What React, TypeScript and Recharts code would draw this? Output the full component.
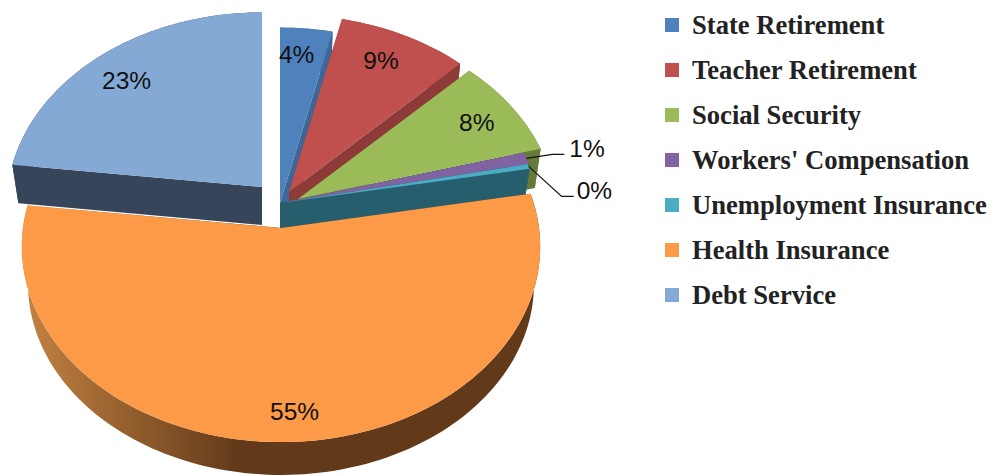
import React from "react";
import { PieChart, Pie, Cell, Legend } from "recharts";

const categories = ["State Retirement", "Teacher Retirement", "Social Security", "Workers' Compensation", "Unemployment Insurance", "Health Insurance", "Debt Service"];
const shares = [3.6, 8.9, 8.2, 1.0, 0.4, 54.7, 23.1];
const shownLabels = ["4%", "9%", "8%", "1%", "0%", "55%", "23%"];

const topColors = ["#4F81BD", "#C0504D", "#9BBB59", "#8064A2", "#4BACC6", "#FC9A48", "#85A9D5"];
const wallColors = ["#3E6797", "#8E3A38", "#667A3A", "#5A4675", "#265E6E", "url(#healthWall)", "#37455A"];

// exploded-slice displacement of each apex from the pie centre
const explodeX = [-1, 8, 17, 0, -1, 0, -19];
const explodeY = [3, -8, -1, 3, 3, 28, -13];
const sliceScale = [0.99, 1, 1, 1, 1, 1, 0.985];

// label placement: radial factor plus nudges
const labelR = [0.84, 0.72, 0.78, 1.2, 1.2, 0.86, 0.72];
const labelDx = [-6, 7, 11, 0, -2, 6, -18];
const labelDy = [1, -16, -3, 0, 1, 2, -7];

const W = 994, H = 476, CX = 281, CY = 200, R = 258;
const RY = 193.8, K = 0.0947, DEPTH = 38, SCALE = 0.976;

const rows = categories.map((name, i) => ({ name, value: shares[i] }));

const project = (deg: number, r = 1) => {
  const a = (deg * Math.PI) / 180;
  const X = r * Math.cos(a), Y = r * Math.sin(a);
  const w = 1 + K * Y;
  return [(R * X) / w, (-RY * Y) / w];
};

const toPath = (pts: number[][]) => "M" + pts.map((p) => `${p[0].toFixed(2)},${p[1].toFixed(2)}`).join("L") + "Z";

function Slice3D(props: any) {
  const { cx, cy, startAngle, endAngle, name, payload } = props;
  const idx = categories.indexOf(name ?? payload?.name);
  const ax = cx + explodeX[idx], ay = cy + explodeY[idx];
  const n = Math.max(2, Math.ceil(Math.abs(endAngle - startAngle) / 1.5));
  const top: number[][] = [];
  for (let i = 0; i <= n; i++) {
    const p = project(startAngle + ((endAngle - startAngle) * i) / n, sliceScale[idx]);
    top.push([ax + p[0], ay + p[1]]);
  }
  const apexTop = [ax, ay];
  const apexBot = [ax, ay + DEPTH];
  const lower = (p: number[]) => [ax + (p[0] - ax) * SCALE, ay + (p[1] - ay) * SCALE + DEPTH];
  const bot = top.map(lower);
  const wall = wallColors[idx];
  const first = top[0], last = top[top.length - 1];
  return (
    <g>
      {idx === 5 && (
        <defs>
          <linearGradient id="healthWall" gradientUnits="userSpaceOnUse" x1={30} y1={0} x2={240} y2={0}>
            <stop offset="0" stopColor="#C08040" />
            <stop offset="1" stopColor="#623A1A" />
          </linearGradient>
        </defs>
      )}
      <path d={toPath([apexTop, first, lower(first), apexBot])} fill={wall} />
      <path d={toPath([apexTop, last, lower(last), apexBot])} fill={wall} />
      <path d={toPath([...top, ...bot.slice().reverse()])} fill={wall} />
      <path d={toPath([apexTop, ...top])} fill={topColors[idx]} />
    </g>
  );
}

function renderLabel(props: any) {
  const { cx, cy, midAngle, name, payload } = props;
  const idx = categories.indexOf(name ?? payload?.name);
  const ax = cx + explodeX[idx], ay = cy + explodeY[idx];
  const style = { fontFamily: "Liberation Sans", fontSize: 24.5, fill: "#111" };
  if (idx === 3 || idx === 4) {
    const p = project(midAngle);
    const sx = ax + p[0], sy = ay + p[1];
    const leader = idx === 3
      ? [[sx, sy], [sx + 26, sy - 4], [sx + 38, sy - 4]]
      : [[sx, sy], [sx + 33, sy + 30], [sx + 45, sy + 30]];
    const ex = leader[2][0], ey = leader[2][1];
    return (
      <g>
        <polyline points={leader.map((q) => q.join(",")).join(" ")} fill="none" stroke="#111" strokeWidth={1.2} />
        <text x={ex + 5 + labelDx[idx]} y={ey - (idx === 3 ? 6 : 7) + labelDy[idx]} dominantBaseline="central" textAnchor="start" style={style}>{shownLabels[idx]}</text>
      </g>
    );
  }
  const p = project(midAngle, labelR[idx]);
  return (
    <text x={ax + p[0] + labelDx[idx]} y={ay + p[1] + labelDy[idx]} dominantBaseline="central" textAnchor="middle" style={style}>
      {shownLabels[idx]}
    </text>
  );
}

function LegendBox({ payload }: any) {
  return (
    <div style={{ position: "absolute", left: 665, top: 2.5 }}>
      {(payload || []).map((e: any, i: number) => (
        <div key={e.value} style={{ height: 45, display: "flex", alignItems: "center", whiteSpace: "nowrap" }}>
          <span style={{ width: 14, height: 14, background: topColors[categories.indexOf(e.value)], display: "inline-block", marginRight: 13 }} />
          <span style={{ fontFamily: "Liberation Serif", fontWeight: 700, fontSize: 26.6, color: "#222" }}>{e.value}</span>
        </div>
      ))}
    </div>
  );
}

export default function App() {
  return (
    <div style={{ position: "absolute", left: 0, top: 0, width: W, height: H, background: "#fff", overflow: "hidden" }}>
      <PieChart width={W} height={H} margin={{ top: 0, right: 0, bottom: 0, left: 0 }}>
        <Pie
          data={rows}
          dataKey="value"
          nameKey="name"
          cx={CX}
          cy={CY}
          outerRadius={R}
          startAngle={90}
          endAngle={-270}
          stroke="none"
          isAnimationActive={false}
          shape={Slice3D}
          label={renderLabel}
          labelLine={false}
        >
          {rows.map((r, i) => <Cell key={r.name} fill={topColors[i]} />)}
        </Pie>
        <Legend content={LegendBox} itemSorter={null} wrapperStyle={{ left: 0, top: 0, width: W, height: 0 }} />
      </PieChart>
    </div>
  );
}
